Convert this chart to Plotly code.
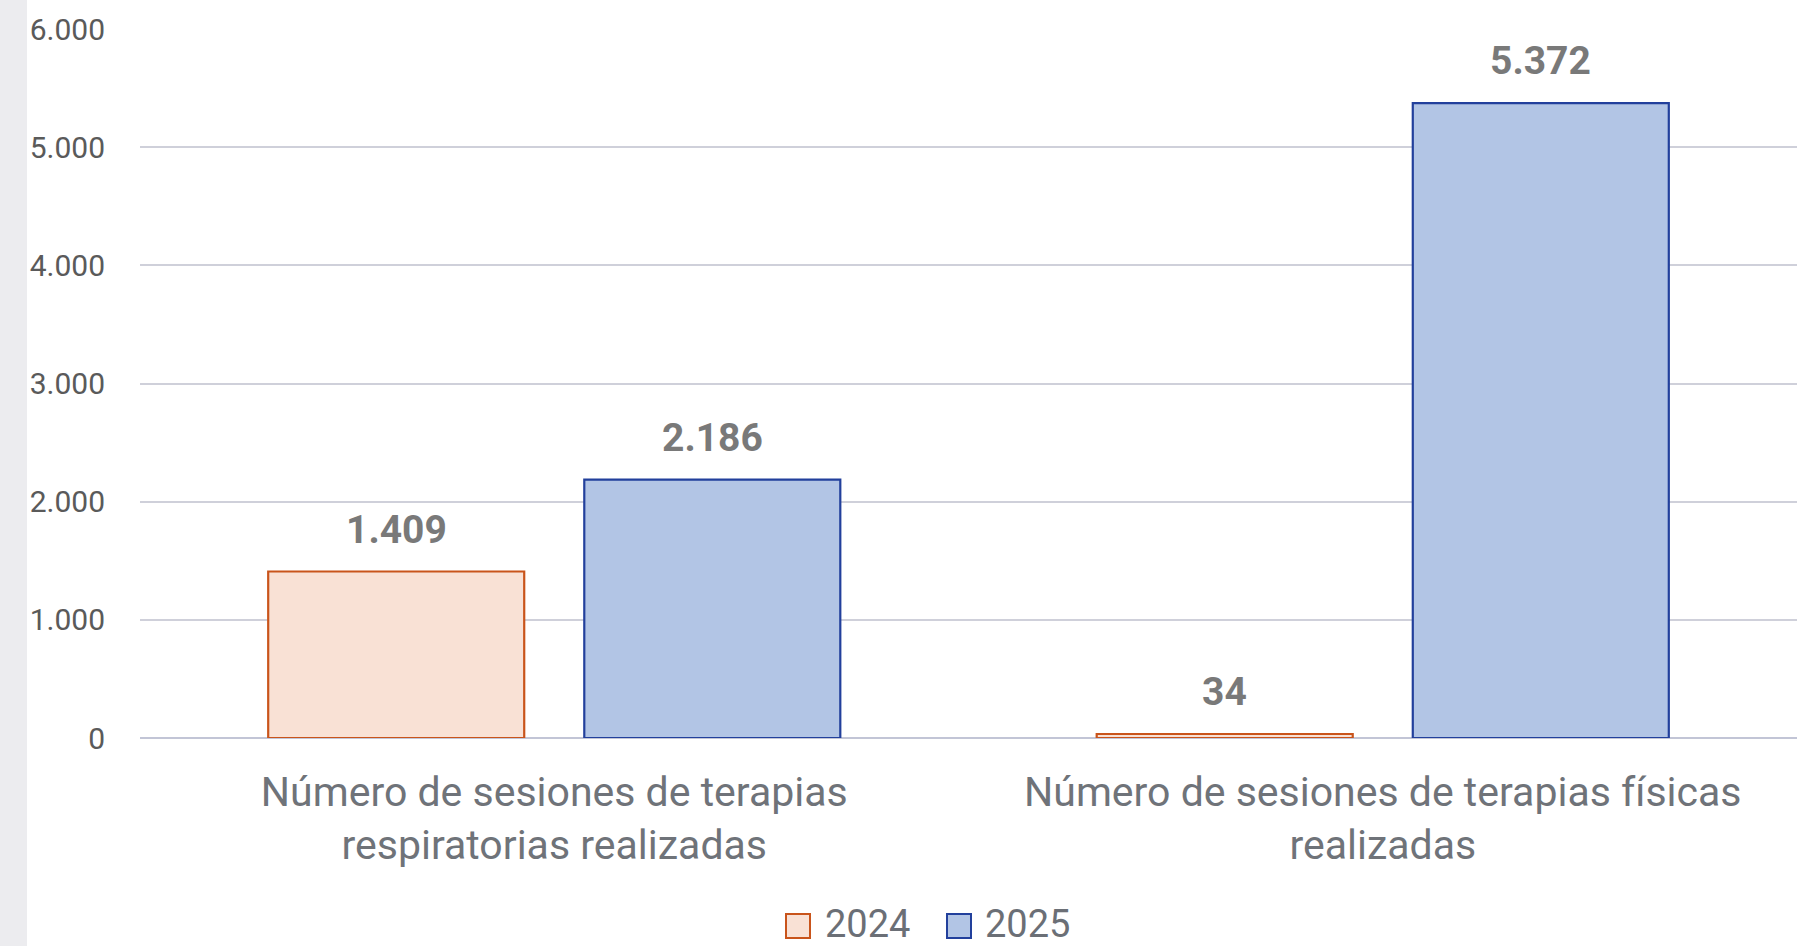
import plotly.graph_objects as go

# Data
categories = [
    "Número de sesiones de terapias<br>respiratorias realizadas",
    "Número de sesiones de terapias físicas<br>realizadas",
]
series_names = ["2024", "2025"]
values_2024 = [1409, 34]
values_2025 = [2186, 5372]
y_tick_values = [0, 1000, 2000, 3000, 4000, 5000, 6000]
y_tick_labels = ["0", "1.000", "2.000", "3.000", "4.000", "5.000", "6.000"]

# Styling
W, H = 1817, 946
ML, MR, MT, MB = 140, 20, 29, 208
PW, PH = W - ML - MR, H - MT - MB
BARGAP = 0.237
BARGROUPGAP = 0.19
FILL = {"2024": "#f9e1d5", "2025": "#b2c5e5"}
EDGE = {"2024": "#c9541b", "2025": "#22409c"}
FONT = "Roboto, 'Open Sans', sans-serif"


def fmt(v):
    return f"{v:,}".replace(",", ".")


def px_x(px):
    return (px - ML) / PW


def px_y(py):
    return (H - MB - py) / PH


fig = go.Figure()
for name, vals in zip(series_names, [values_2024, values_2025]):
    fig.add_trace(go.Bar(
        x=categories, y=vals, name=name,
        marker=dict(color=FILL[name], line=dict(color=EDGE[name], width=2.2)),
        showlegend=False,
    ))

# Value labels above each bar
cat_w = PW / len(categories)
slot = (1 - BARGAP) * cat_w / len(series_names)
for i, (name, vals) in enumerate(zip(series_names, [values_2024, values_2025])):
    shift = (i - (len(series_names) - 1) / 2) * slot
    for c, v in zip(categories, vals):
        fig.add_annotation(
            x=c, y=v, xref="x", yref="y", text=f"<b>{fmt(v)}</b>",
            showarrow=False, xshift=shift, yshift=42, yanchor="middle",
            font=dict(family=FONT, size=39, color="#797979"),
        )

# Left side band
fig.add_shape(type="rect", xref="paper", yref="paper",
              x0=px_x(0), x1=px_x(27), y0=px_y(H), y1=px_y(0),
              fillcolor="#ececef", line=dict(width=0), layer="below")

# Legend drawn as boxes with labels
legend_items = [("2024", 786, 823), ("2025", 947, 983)]
for name, box_x, text_x in legend_items:
    fig.add_shape(type="rect", xref="paper", yref="paper",
                  x0=px_x(box_x), x1=px_x(box_x + 24),
                  y0=px_y(938), y1=px_y(914),
                  fillcolor=FILL[name], line=dict(color=EDGE[name], width=2))
    fig.add_annotation(x=px_x(text_x), y=px_y(924), xref="paper", yref="paper",
                       text=name, showarrow=False, xanchor="left", yanchor="middle",
                       font=dict(family=FONT, size=38, color="#6b6f76"))

fig.update_layout(
    width=W, height=H,
    margin=dict(l=ML, r=MR, t=MT, b=MB, pad=0),
    paper_bgcolor="white", plot_bgcolor="white",
    barmode="group", bargap=BARGAP, bargroupgap=BARGROUPGAP,
    font=dict(family=FONT),
    showlegend=False,
)
fig.update_xaxes(
    showgrid=False, showline=False, zeroline=False,
    tickfont=dict(family=FONT, size=41, color="#6f7379"),
    ticks="", ticklabelstandoff=26,
)
fig.update_yaxes(
    range=[0, 6000], tickvals=y_tick_values, ticktext=y_tick_labels,
    showgrid=True, gridcolor="#cfd0da", gridwidth=2,
    zeroline=True, zerolinecolor="#c2c5d6", zerolinewidth=2,
    showline=False, ticks="", ticklabelstandoff=34,
    tickfont=dict(family=FONT, size=30, color="#5a5a5a"),
)

fig.write_html("out.html")
